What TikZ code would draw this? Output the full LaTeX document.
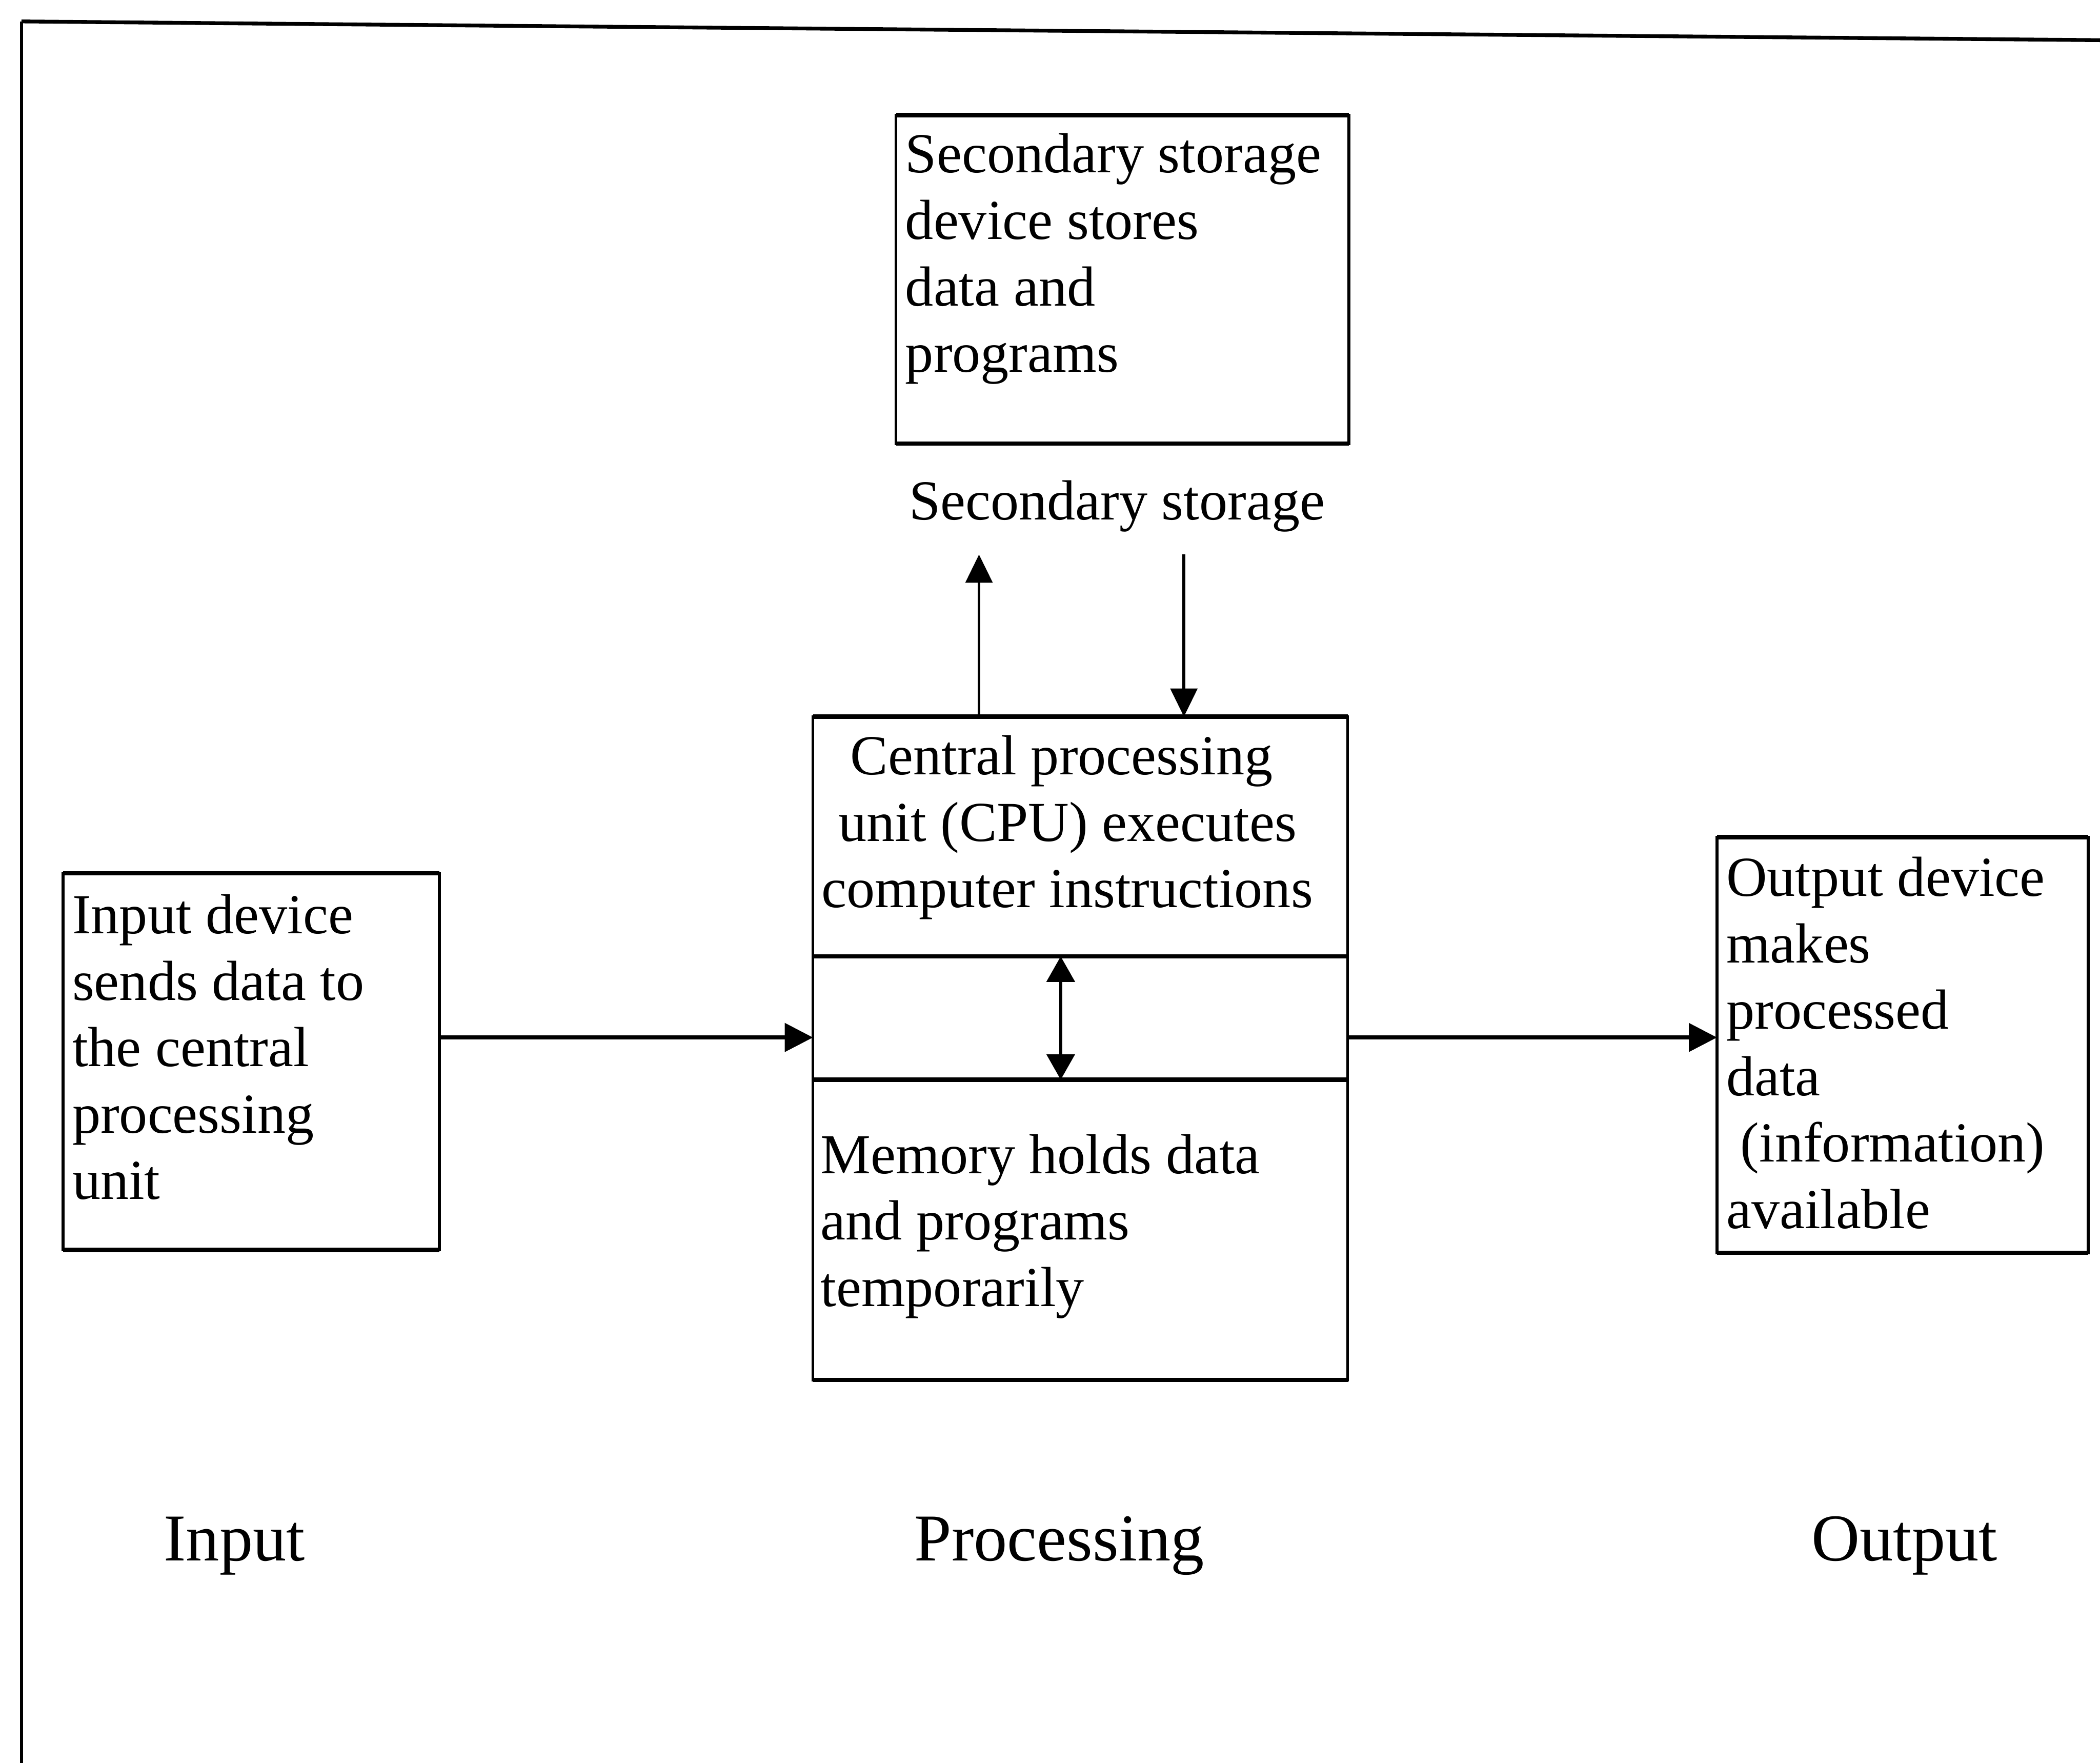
\documentclass[tikz,border=0pt]{standalone}
\usepackage{fontspec}
\setmainfont{Liberation Serif}
\usetikzlibrary{arrows.meta}

% several lines stacked, baseline at the first line
\newcommand{\textlines}[1]{\begin{tabular}[t]{@{}l@{}}#1\end{tabular}}

\begin{document}
\begin{tikzpicture}[
  x=0.01cm, y=-0.01cm,
  every node/.style={inner sep=0pt, outer sep=0pt, font=\fontsize{12pt}{14.1pt}\selectfont},
  box/.style={draw, line width=0.6pt, anchor=north west},
  hedge/.style={line width=0.9pt},
  txt/.style={anchor=base west},
  heading/.style={anchor=base, font=\fontsize{14.2pt}{17pt}\selectfont},
  flow/.style={line width=0.8pt, -{Triangle[length=2.1mm,width=2.1mm]}},
  link/.style={line width=0.6pt, -{Triangle[length=2.1mm,width=2mm]}},
  twoway/.style={line width=0.6pt, {Triangle[length=1.9mm,width=2.1mm]}-{Triangle[length=1.9mm,width=2.1mm]}},
]
\useasboundingbox (0,0) rectangle (1568,1316);

% page frame (left and top edges)
\coordinate (fbl) at (16,1316);
\coordinate (ftl) at (16,16);
\coordinate (ftr) at (1568,30);
\draw[line width=0.6pt] (fbl) -- (ftl);
\draw[line width=0.8pt] (ftl) -- (ftr);

% boxes
\node[box, minimum width=3.38cm, minimum height=2.45cm] (store) at (669,86) {};
\node[box, minimum width=3.99cm, minimum height=4.95cm] (cpu) at (607,535) {};
\node[box, minimum width=2.81cm, minimum height=2.81cm] (in) at (47,652) {};
\node[box, minimum width=2.77cm, minimum height=3.10cm] (out) at (1282,625) {};

% horizontal edges are printed heavier
\foreach \b in {store,cpu,in,out}
  \draw[hedge] (\b.north west) -- (\b.north east) (\b.south west) -- (\b.south east);

% CPU / memory dividers
\coordinate (div1) at (0,714);
\coordinate (div2) at (0,806);
\draw[hedge] (cpu.west |- div1) -- (cpu.east |- div1);
\draw[hedge] (cpu.west |- div2) -- (cpu.east |- div2);

% CPU <-> memory
\coordinate (bus) at (792,0);
\draw[twoway] (bus |- div1) -- (bus |- div2);

% CPU <-> secondary storage
\coordinate (upx) at (731,414);
\coordinate (downx) at (884,414);
\draw[link] (cpu.north -| upx) -- (upx);
\draw[link] (downx) -- (cpu.north -| downx);

% input -> CPU -> output
\coordinate (flowy) at (0,774.5);
\draw[flow] (in.east |- flowy) -- (cpu.west |- flowy);
\draw[flow] (cpu.east |- flowy) -- (out.west |- flowy);

% texts
\node[txt] (storetext) at (676,129) {\textlines{Secondary storage\\device stores\\data and\\programs}};
\node[anchor=base] (storelabel) at (834,388) {Secondary storage};
\node[txt] (cputext) at (613.5,578.3) {\textlines{\hspace*{0.215cm}Central processing\\\hspace*{0.125cm}unit (CPU) executes\\computer instructions}};
\node[txt] (memtext) at (612.7,876) {\textlines{Memory holds data\\and programs\\temporarily}};
\node[txt] (intext) at (54,697) {\textlines{Input device\\sends data to\\the central\\processing\\unit}};
\node[txt] (outtext) at (1289,669) {\textlines{Output device\\makes\\processed\\data\\\ (information)\\available}};

% stage headings
\node[heading] (hin) at (175,1165) {Input};
\node[heading] (hproc) at (791,1165) {Processing};
\node[heading] (hout) at (1422,1165) {Output};
\end{tikzpicture}
\end{document}
